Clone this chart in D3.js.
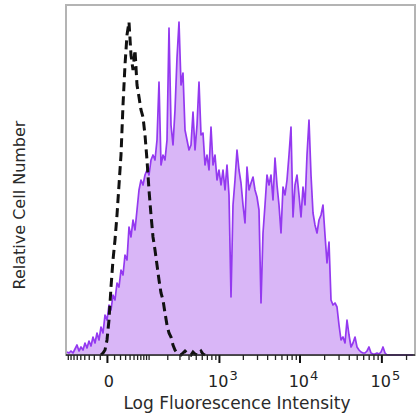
<!DOCTYPE html>
<html>
<head>
<meta charset="utf-8">
<script src="https://cdn.jsdelivr.net/npm/d3@7"></script>
<style>
html,body{margin:0;padding:0;background:#fff;}
svg{display:block;}
</style>
</head>
<body>
<svg id="chart" width="417" height="414"></svg>
<script>
// Histogram channels (equal-width bins across the display axis), counts in relative units
const purpleCounts = [
  3,2,4,2,6,10,4,8,5,12,
  7,14,9,18,12,22,15,28,22,40,
  35,50,45,60,55,72,68,85,80,100,
  95,128,118,135,125,145,165,175,170,180,
  185,180,195,200,195,215,273,190,200,195,
  215,327,230,210,245,297,333,270,282,225,
  215,205,210,243,205,230,273,220,222,190,
  200,185,228,190,200,175,185,170,185,165,
  190,160,58,150,175,205,185,172,150,132,
  188,165,172,178,165,158,145,52,122,150,
  180,170,180,155,197,170,150,122,168,160,
  175,200,228,138,170,180,160,138,168,150,
  200,235,180,142,130,122,135,140,150,120,
  92,113,55,50,52,48,30,15,18,12,
  35,20,8,12,18,8,5,3,2,2,
  4,8,2,1,1,2,1,3,8,2,
  0,0,0,0,0,0,0,0,0,0,
  0,0,0,0
];
const controlCounts = [
  0,0,0,0,0,0,0,0,0,0,
  0,0,0,0,0,0,0,0,2,5,
  15,35,68,95,115,140,170,200,250,290,
  320,333,300,285,305,270,258,245,238,220,
  195,165,140,118,105,90,75,62,55,42,
  30,22,18,10,5,2,1,0,2,4,
  2,1,0,3,1,0,2,4,1,0,
  0,0,0,0,0,0,0,0,0,0,
  0,0,0,0,0,0,0,0,0,0,
  0,0,0,0,0,0,0,0,0,0,
  0,0,0,0,0,0,0,0,0,0,
  0,0,0,0,0,0,0,0,0,0,
  0,0,0,0,0,0,0,0,0,0,
  0,0,0,0,0,0,0,0,0,0,
  0,0,0,0,0,0,0,0,0,0,
  0,0,0,0,0,0,0,0,0,0,
  0,0,0,0,0,0,0,0,0,0,
  0,0,0,0
];
const majorTicks = [0, 1e3, 1e4, 1e5];
const tickLabels = [["0",""],["10","3"],["10","4"],["10","5"]];
const minorTicks = [-90,-80,-70,-60,-50,-40,-30,-20,-10,
  10,20,30,40,50,60,70,80,90,
  100,200,300,400,500,600,700,800,900,
  2000,3000,4000,5000,6000,7000,8000,9000,
  20000,30000,40000,50000,60000,70000,80000,90000,
  200000];
const xTitle = "Log Fluorescence Intensity";
const yTitle = "Relative Cell Number";

(function () {
const svg = d3.select("#chart");
const mL = 66, mR = 415, mT = 5, mB = 355;

const nBins = purpleCounts.length;
const xChan = d3.scaleLinear().domain([0, nBins]).range([mL, mR - 1]);
const xAxisScale = d3.scaleSymlog().constant(45).domain([-97, 250000]).range([mL, mR - 1]);
const y = d3.scaleLinear().domain([0, 350]).range([mB, mT]);

// frame
svg.append("rect").attr("x", mL).attr("y", mT).attr("width", mR - mL).attr("height", mB - mT)
  .attr("fill", "none").attr("stroke", "#b4b4b4").attr("stroke-width", 2);

const cx = (d, i) => xChan(i + 0.5);

// purple filled histogram
const area = d3.area().x(cx).y0(y(0)).y1(d => y(d)).curve(d3.curveLinear);
svg.append("path").datum(purpleCounts).attr("d", area).attr("fill", "#d9b6f7");
const line = d3.line().x(cx).y(d => y(d)).curve(d3.curveLinear);
svg.append("path").datum(purpleCounts).attr("d", line).attr("fill", "none")
  .attr("stroke", "#9439f0").attr("stroke-width", 1.7).attr("stroke-linejoin", "round");

// control dashed histogram (only over its non-empty span)
let first = controlCounts.findIndex(v => v > 0) - 1;
let last = controlCounts.length - 1;
while (last > 0 && controlCounts[last] === 0) last--;
last = Math.min(last + 1, controlCounts.length - 1);
const dashLine = d3.line()
  .defined((d, i) => i >= first && i <= last)
  .x(cx).y(d => y(d)).curve(d3.curveLinear);
svg.append("path").datum(controlCounts).attr("d", dashLine).attr("fill", "none")
  .attr("stroke", "#111").attr("stroke-width", 3).attr("stroke-dasharray", "9,5");

// x axis
const ax = svg.append("g").attr("transform", `translate(0,${mB})`);
ax.call(d3.axisBottom(xAxisScale).tickValues(minorTicks).tickSize(5).tickFormat(""));
ax.select(".domain").remove();
ax.selectAll(".tick line").attr("stroke", "#222").attr("stroke-width", 1.3);
const ax2 = svg.append("g").attr("transform", `translate(0,${mB})`);
ax2.call(d3.axisBottom(xAxisScale).tickValues(majorTicks).tickSize(8).tickFormat(""));
ax2.select(".domain").remove();
ax2.selectAll(".tick line").attr("stroke", "#111").attr("stroke-width", 2);
svg.append("line").attr("x1", mL).attr("x2", mR).attr("y1", mB).attr("y2", mB)
  .attr("stroke", "#222").attr("stroke-width", 1.6);

// tick labels
majorTicks.forEach((v, i) => {
  const t = svg.append("text")
    .attr("x", xAxisScale(v) + (i === 0 ? 2 : 4))
    .attr("y", 387)
    .attr("text-anchor", "middle")
    .attr("font-family", "DejaVu Sans, Verdana, sans-serif")
    .attr("font-size", 16)
    .attr("fill", "#222");
  t.append("tspan").text(tickLabels[i][0]);
  if (tickLabels[i][1]) t.append("tspan").attr("dx", 1).attr("dy", -7).attr("font-size", 13).text(tickLabels[i][1]);
});

// titles
svg.append("text").attr("x", 237).attr("y", 409).attr("text-anchor", "middle")
  .attr("font-family", "DejaVu Sans, Verdana, sans-serif").attr("font-size", 17)
  .attr("fill", "#2a2a2a").text(xTitle);
svg.append("text").attr("transform", "translate(25,205) rotate(-90)").attr("text-anchor", "middle")
  .attr("font-family", "DejaVu Sans, Verdana, sans-serif").attr("font-size", 16)
  .attr("fill", "#2a2a2a").text(yTitle);
})();
</script>
</body>
</html>
